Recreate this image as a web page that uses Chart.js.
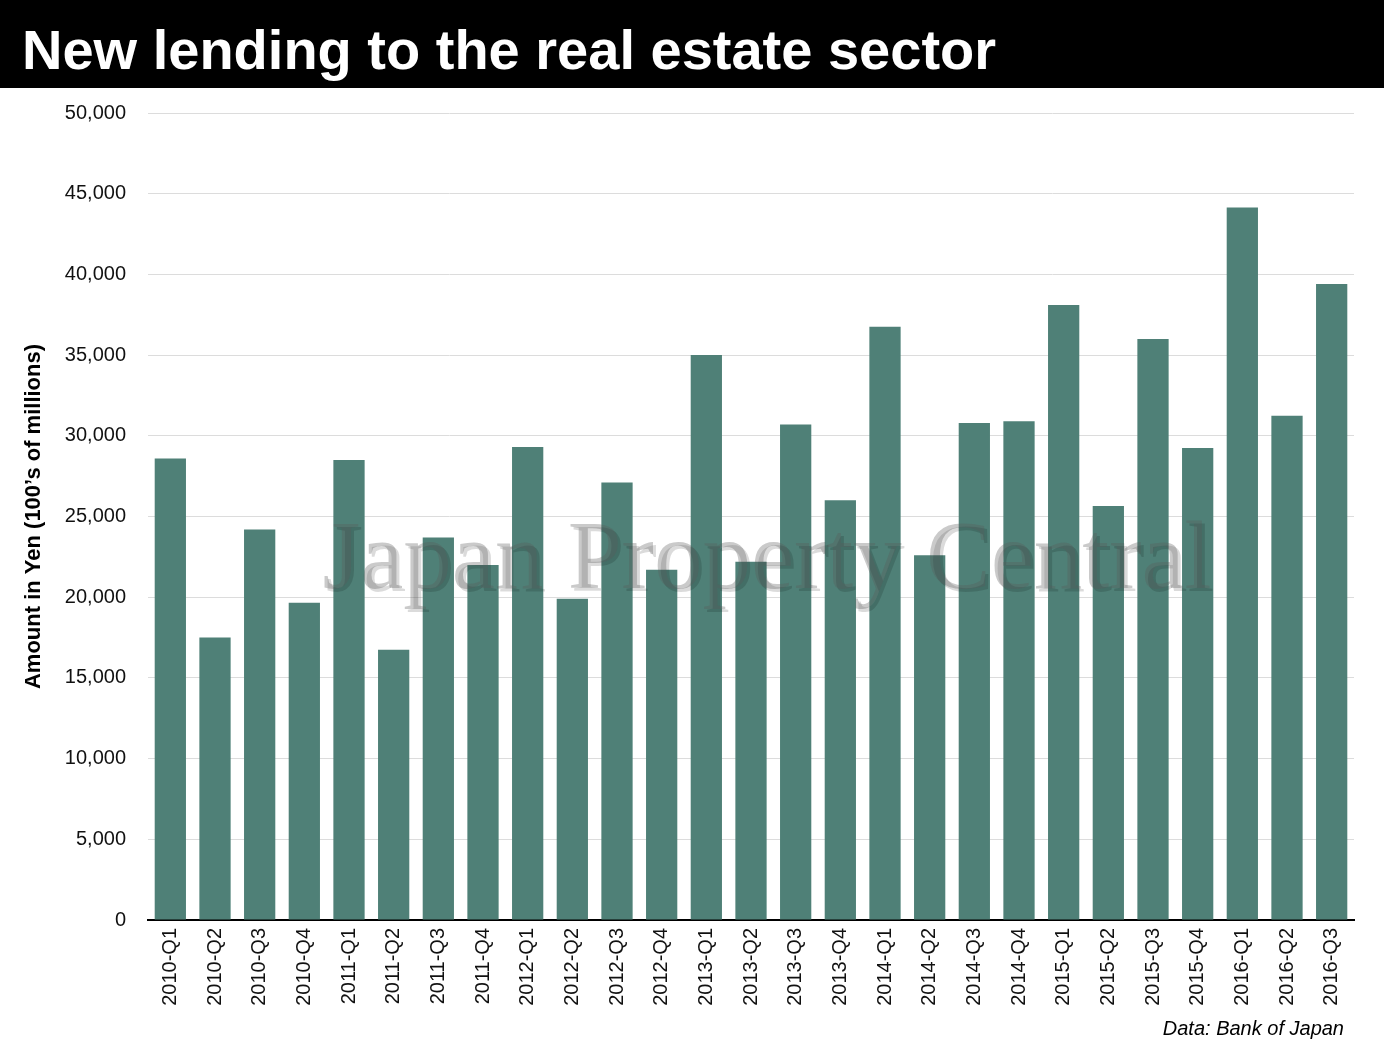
<!DOCTYPE html>
<html>
<head>
<meta charset="utf-8">
<title>New lending to the real estate sector</title>
<script src="https://cdn.jsdelivr.net/npm/chart.js@4/dist/chart.umd.min.js"></script>
<style>
  body { margin: 0; width: 1384px; height: 1056px; background: #fff; position: relative; overflow: hidden; font-family: 'Liberation Sans', Arial, sans-serif; }
  #header { position: absolute; left: 0; top: 0; width: 1384px; height: 88px; background: #000; }
  #header h1 { margin: 0; position: absolute; left: 22px; top: 22px; line-height: 56px; color: #fff; font-size: 56px; font-weight: bold; white-space: nowrap; }
  #chartBox { position: absolute; left: 0; top: 79px; }
  #source { position: absolute; right: 40px; top: 1018px; line-height: 20px; font-size: 20px; font-style: italic; color: #000; }
</style>
</head>
<body>
<div id="header"><h1>New lending to the real estate sector</h1></div>
<div id="chartBox"><canvas id="chart" width="1384" height="977"></canvas></div>
<div id="source">Data: Bank of Japan</div>
<script>
const quarters = [
  '2010-Q1', '2010-Q2', '2010-Q3', '2010-Q4',
  '2011-Q1', '2011-Q2', '2011-Q3', '2011-Q4',
  '2012-Q1', '2012-Q2', '2012-Q3', '2012-Q4',
  '2013-Q1', '2013-Q2', '2013-Q3', '2013-Q4',
  '2014-Q1', '2014-Q2', '2014-Q3', '2014-Q4',
  '2015-Q1', '2015-Q2', '2015-Q3', '2015-Q4',
  '2016-Q1', '2016-Q2', '2016-Q3'
];
// new lending, 100's of millions of yen
const newLending = [
  28600, 17500, 24200, 19650,
  28500, 16750, 23700, 22000,
  29300, 19900, 27100, 21700,
  35000, 22200, 30700, 26000,
  36750, 22600, 30800, 30900,
  38100, 25650, 36000, 29250,
  44150, 31250, 39400
];
const yAxisTitle = 'Amount in Yen (100\u2019s of millions)';
const watermarkText = 'Japan Property Central';

const watermark = {
  id: 'watermark',
  afterDatasetsDraw(chart) {
    const ctx = chart.ctx;
    const area = chart.chartArea;
    const x = (area.left + area.right) / 2 + 16;
    const y = area.top + 475;
    ctx.save();
    ctx.font = '97px "Liberation Serif", "Times New Roman", serif';
    ctx.textAlign = 'center';
    ctx.textBaseline = 'alphabetic';
    ctx.fillStyle = 'rgba(0, 0, 0, 0.14)';
    ctx.fillText(watermarkText, x + 3, y + 3);
    ctx.fillStyle = 'rgba(90, 90, 90, 0.32)';
    ctx.fillText(watermarkText, x, y);
    ctx.restore();
  }
};

const chart = document.getElementById('chart');
const myChart = new Chart(chart, {
  type: 'bar',
  data: {
    labels: quarters,
    datasets: [{
      label: 'New lending',
      data: newLending,
      backgroundColor: '#4f8077',
      borderWidth: 0,
      categoryPercentage: 1,
      barPercentage: 0.7
    }]
  },
  options: {
    responsive: false,
    animation: false,
    layout: { padding: { top: 17, right: 30, left: 0, bottom: 0 } },
    plugins: {
      legend: { display: false },
      tooltip: { enabled: false }
    },
    scales: {
      x: {
        grid: { display: false, drawTicks: false },
        border: { color: '#000', width: 2 },
        ticks: {
          minRotation: 90,
          maxRotation: 90,
          autoSkip: false,
          padding: 8,
          color: '#111',
          font: { family: "'Liberation Sans', Arial, sans-serif", size: 20 }
        },
        afterFit: (axis) => { axis.height = 136; }
      },
      y: {
        min: 0,
        max: 50000,
        grid: { color: '#dcdcdc', lineWidth: 1, drawTicks: false },
        border: { display: false },
        ticks: {
          stepSize: 5000,
          padding: 22,
          color: '#111',
          font: { family: "'Liberation Sans', Arial, sans-serif", size: 20 },
          callback: (value) => value.toLocaleString('en-US')
        },
        title: {
          display: true,
          text: yAxisTitle,
          color: '#000',
          padding: { top: 21, bottom: 0 },
          font: { family: "'Liberation Sans', Arial, sans-serif", size: 22, weight: 'bold' }
        },
        afterFit: (axis) => { axis.width = 148; }
      }
    }
  },
  plugins: [watermark]
});
</script>
</body>
</html>
